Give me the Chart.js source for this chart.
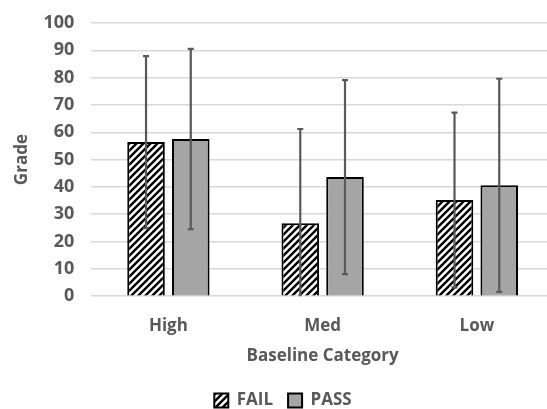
<!DOCTYPE html>
<html>
<head>
<meta charset="utf-8">
<script src="https://cdn.jsdelivr.net/npm/chart.js@4/dist/chart.umd.min.js"></script>
<style>
  html, body { margin: 0; padding: 0; background: #fff; overflow: hidden; }
  #wrap { width: 547px; height: 409px; overflow: hidden; }
</style>
</head>
<body>
<div id="wrap"><canvas id="cnv" width="554" height="409"></canvas></div>
<script>
(function(){

    var categories = ["High", "Med", "Low"];
    var failValues = [56.4, 26.7, 35.2];
    var passValues = [57.5, 43.6, 40.6];
    var failErrors = [31.5, 34.5, 32];
    var passErrors = [33, 35.5, 39];

    // hatch for the FAIL bars
    function hatch(){
        var c = document.createElement("canvas");
        c.width = 7; c.height = 7;
        var x = c.getContext("2d");
        x.fillStyle = "#fff";
        x.fillRect(0, 0, 7, 7);
        x.strokeStyle = "#000";
        x.lineWidth = 2.4;
        x.beginPath();
        x.moveTo(-1, 8); x.lineTo(8, -1);
        x.moveTo(-4.5, 4.5); x.lineTo(4.5, -4.5);
        x.moveTo(2.5, 11.5); x.lineTo(11.5, 2.5);
        x.stroke();
        return x.createPattern(c, "repeat");
    }

    var errorBars = {
        id: "errorBars",
        afterDatasetsDraw: function(chart){
            var ctx = chart.ctx, y = chart.scales.y;
            var errs = [failErrors, passErrors];
            ctx.save();
            ctx.strokeStyle = "#595959";
            ctx.lineWidth = 2.2;
            chart.data.datasets.forEach(function(ds, i){
                chart.getDatasetMeta(i).data.forEach(function(bar, j){
                    var v = ds.data[j], e = errs[i][j];
                    var lo = Math.max(v - e, y.min);
                    var top = y.getPixelForValue(v + e);
                    var bot = y.getPixelForValue(lo);
                    ctx.beginPath();
                    ctx.moveTo(bar.x, top); ctx.lineTo(bar.x, bot);
                    ctx.moveTo(bar.x - 3, top); ctx.lineTo(bar.x + 3, top);
                    if (v - e >= y.min) { ctx.moveTo(bar.x - 3, bot); ctx.lineTo(bar.x + 3, bot); }
                    ctx.stroke();
                });
            });
            ctx.restore();
        }
    };

    var fam = "'Open Sans', 'Liberation Sans', sans-serif";

    var data = {
        labels: categories,
        datasets: [
            {
                label: "FAIL",
                data: failValues,
                backgroundColor: hatch(),
                borderColor: "#000",
                borderWidth: 2,
                categoryPercentage: 0.58,
                barPercentage: 0.84
            },
            {
                label: "PASS",
                data: passValues,
                backgroundColor: "#a5a5a5",
                borderColor: "#000",
                borderWidth: 2,
                categoryPercentage: 0.58,
                barPercentage: 0.84
            }]
    };

    var opt = {
        responsive: false,
        animation: false,
        layout: { padding: { top: 23, right: 0, left: 12, bottom: -10 } },
        plugins: {
            tooltip: { enabled: false },
            legend: {
                position: "bottom",
                labels: {
                    color: "#595959",
                    font: { family: fam, weight: "bold", size: 17 },
                    boxWidth: 14, boxHeight: 14,
                    padding: 15
                }
            }
        },
        scales: {
            x: {
                grid: { display: false },
                border: { display: false },
                ticks: { color: "#595959", padding: 12, font: { family: fam, weight: "bold", size: 17 } },
                title: {
                    display: true, text: "Baseline Category", color: "#595959",
                    font: { family: fam, weight: "bold", size: 17 },
                    padding: { top: -3, bottom: 11 }
                }
            },
            y: {
                min: 0, max: 100,
                grid: { color: "#d9d9d9", lineWidth: 1.5, drawTicks: false },
                border: { display: false },
                ticks: { stepSize: 10, color: "#595959", padding: 17,
                         font: { family: fam, weight: "bold", size: 18 } },
                title: {
                    display: true, text: "Grade", color: "#595959",
                    font: { family: fam, weight: "bold", size: 17 },
                    padding: { top: 0, bottom: -6 }
                },
                afterFit: function(scale){
                    scale.paddingTop = 0;
                    scale.paddingBottom = 0;
                }
            }
        }
    };

    new Chart(document.getElementById("cnv"), {
        type: "bar",
        data: data,
        options: opt,
        plugins: [errorBars]
    });

})();
</script>
</body>
</html>
